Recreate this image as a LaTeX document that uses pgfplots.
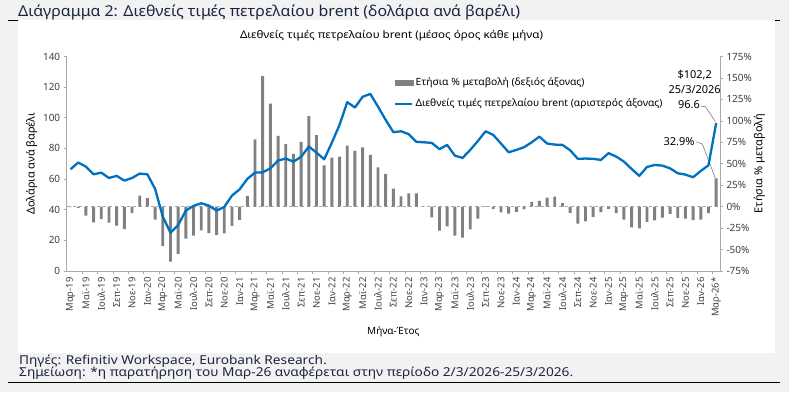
\documentclass[border=0pt]{standalone}
\usepackage{graphicx}
\usepackage{pgfplots}
\pgfplotsset{compat=1.18}
\usepackage{pgfplotstable}
\usepackage{fontspec}
\setmainfont{Noto Sans}
\definecolor{bggray}{RGB}{242,242,242}
\definecolor{axgray}{RGB}{170,170,170}
\definecolor{bargray}{RGB}{128,128,128}
\definecolor{oilblue}{RGB}{0,112,192}
\definecolor{navy}{RGB}{28,36,66}
\definecolor{ticktext}{RGB}{64,64,64}
% stretch text horizontally to a target width (in bp), keeping its height
\newcommand{\fitw}[2]{\begingroup\setbox0=\hbox{#2}\pgfmathsetmacro\fitsx{(#1*1.00375)/(\the\wd0)}\scalebox{\fitsx}[1]{\box0}\endgroup}

\pgfplotstableread{
i price yoy
0 66.4 -0.5
1 70.8 -1.3
2 68.1 -10.5
3 63.1 -18.3
4 64.2 -14.4
5 60.7 -18.7
6 62.1 -22.2
7 59.0 -26.1
8 60.7 -7.4
9 63.6 12.8
10 63.1 10.1
11 53.6 -15.2
12 35.5 -46.0
13 25.0 -64.0
14 30.0 -55.0
15 39.4 -37.3
16 42.5 -33.8
17 44.2 -27.6
18 42.7 -31.0
19 39.4 -33.0
20 41.8 -31.1
21 49.2 -22.4
22 53.3 -15.3
23 60.1 12.5
24 64.2 78.5
25 64.4 152.0
26 67.0 120.0
27 72.1 82.5
28 73.4 73.0
29 71.4 61.5
30 74.5 75.4
31 81.2 105.5
32 77.3 83.5
33 72.9 48.0
34 83.8 57.2
35 95.4 58.3
36 110.2 71.0
37 106.7 65.0
38 113.7 69.0
39 115.6 60.3
40 107.3 45.8
41 98.6 38.1
42 90.6 21.0
43 91.2 12.1
44 89.3 15.5
45 84.3 15.6
46 84.0 0.2
47 83.6 -12.4
48 79.5 -27.9
49 82.3 -22.9
50 75.3 -33.8
51 73.8 -36.2
52 79.0 -26.4
53 84.9 -13.9
54 91.2 0.7
55 88.8 -2.6
56 83.2 -6.8
57 77.5 -8.1
58 79.0 -6.0
59 80.8 -3.3
60 84.0 5.7
61 87.7 6.6
62 83.2 10.5
63 82.5 11.8
64 82.3 4.2
65 78.8 -7.2
66 73.2 -19.7
67 73.4 -17.3
68 73.2 -12.0
69 72.5 -6.5
70 76.9 -2.7
71 74.7 -7.5
72 71.4 -15.0
73 66.6 -24.1
74 62.1 -25.4
75 67.9 -17.7
76 69.2 -15.9
77 68.8 -12.7
78 67.0 -8.5
79 63.8 -13.1
80 62.9 -14.1
81 61.2 -15.6
82 65.3 -15.1
83 69.0 -7.6
84 96.6 32.9
}\oildata

\begin{document}
\setbox2=\hbox{\fontsize{12.3}{14}\selectfont Σημείωση: *η παρατήρηση του Μαρ-26 αναφέρεται στην περίοδο 2/3/2026-25/3/2026.}%
\pgfmathsetmacro\footsx{(554*1.00375)/(\the\wd2)}%
\begin{tikzpicture}[x=1bp,y=1bp]
\useasboundingbox (0,0) rectangle (789,392);
\fill[bggray] (0,0) rectangle (789,392);
\draw[black,line width=1bp] (8,371.3) -- (780,371.3);
\fill[white] (18,39.3) rectangle (775,372.2);
\draw[black,line width=1bp] (8,9.3) -- (780,9.3);
\node[anchor=base west,inner sep=0,text=navy,font=\fontsize{15}{17}\selectfont] at (18,375.3) {\fitw{502}{Διάγραμμα 2: Διεθνείς τιμές πετρελαίου brent (δολάρια ανά βαρέλι)}};
\node[anchor=base,inner sep=0,text=black,font=\fontsize{10.5}{12}\selectfont] at (391.5,353.7) {\fitw{303}{Διεθνείς τιμές πετρελαίου brent (μέσος όρος κάθε μήνα)}};
\node[anchor=base west,inner sep=0,text=navy,font=\fontsize{12.3}{14}\selectfont] at (19,28) {\scalebox{\footsx}[1]{Πηγές: Refinitiv Workspace, Eurobank Research.}};
\node[anchor=base west,inner sep=0,text=navy,font=\fontsize{12.3}{14}\selectfont] at (19,15.3) {\scalebox{\footsx}[1]{Σημείωση: *η παρατήρηση του Μαρ-26 αναφέρεται στην περίοδο 2/3/2026-25/3/2026.}};

% bars on the right axis
\begin{axis}[
  at={(66.7bp,121bp)}, anchor=south west, scale only axis,
  width=653.3bp, height=214.5bp,
  xmin=-0.5, xmax=84.5, ymin=-75, ymax=175,
  hide x axis,
  axis y line*=right,
  axis line style={axgray, line width=0.8bp},
  ytick={-75,-50,...,175},
  yticklabels={-75\%,-50\%,-25\%,0\%,25\%,50\%,75\%,100\%,125\%,150\%,175\%},
  tick align=outside, major tick length=3bp,
  tick style={axgray, line width=0.6bp},
  y tick label style={font=\fontsize{10}{12}\selectfont, text=ticktext},
  ylabel={Ετήσια \% μεταβολή},
  ylabel style={font=\fontsize{11}{13}\selectfont, text=black},
  ylabel shift=-5bp,
  clip=false,
]
\addplot[axgray, dashed, dash pattern=on 3bp off 3bp, line width=0.8bp, forget plot] coordinates {(-0.5,0) (84.5,0)};
\addplot[ybar, bar width=2.9bp, fill=bargray, draw=none, forget plot] table[x=i, y=yoy] {\oildata};
\draw[gray, line width=0.6bp] (axis cs:83.9,32.9) -- (axis cs:82.2,73) -- (axis cs:81.4,75.5);
\node[anchor=east, inner sep=0, font=\fontsize{11}{13}\selectfont] at (axis cs:81.2,76) {32.9\%};
\end{axis}

% price line on the left axis
\begin{axis}[
  at={(66.7bp,121bp)}, anchor=south west, scale only axis,
  width=653.3bp, height=214.5bp,
  xmin=-0.5, xmax=84.5, ymin=0, ymax=140,
  axis y line*=left, axis x line*=bottom,
  axis line style={axgray, line width=0.8bp},
  ytick={0,20,...,140},
  yticklabels={0,20,40,60,80,100,120,140},
  xtick={0,2,...,84},
  xticklabels={Μαρ-19,Μαϊ-19,Ιουλ-19,Σεπ-19,Νοε-19,Ιαν-20,Μαρ-20,Μαϊ-20,Ιουλ-20,Σεπ-20,Νοε-20,Ιαν-21,Μαρ-21,Μαϊ-21,Ιουλ-21,Σεπ-21,Νοε-21,Ιαν-22,Μαρ-22,Μαϊ-22,Ιουλ-22,Σεπ-22,Νοε-22,Ιαν-23,Μαρ-23,Μαϊ-23,Ιουλ-23,Σεπ-23,Νοε-23,Ιαν-24,Μαρ-24,Μαϊ-24,Ιουλ-24,Σεπ-24,Νοε-24,Ιαν-25,Μαρ-25,Μαϊ-25,Ιουλ-25,Σεπ-25,Νοε-25,Ιαν-26,Μαρ-26*},
  minor xtick={1.5,3.5,...,83.5},
  tick align=outside, major tick length=3bp, minor tick length=3bp,
  tick style={axgray, line width=0.6bp},
  x tick style={draw=none},
  minor x tick style={draw=axgray, line width=0.6bp},
  x tick label style={rotate=90, anchor=east, font=\fontsize{9.5}{11}\selectfont, text=ticktext},
  y tick label style={font=\fontsize{10}{12}\selectfont, text=ticktext},
  ylabel={Δολάρια ανά βαρέλι},
  ylabel style={font=\fontsize{11}{13}\selectfont, text=black},
  ylabel shift=-1bp,
  xlabel={Μήνα-Έτος},
  xlabel style={font=\fontsize{10}{12}\selectfont, text=black, yshift=-3bp},
  legend style={at={(0.4995,0.915)}, anchor=north west, draw=none, fill=none,
    font=\fontsize{10}{12}\selectfont, row sep=8bp, inner sep=1bp},
  legend cell align=left,
  clip=false,
]
\addlegendimage{legend image code/.code={\fill[bargray] (0bp,-2.6bp) rectangle (18bp,2.6bp);}}
\addlegendentry{\fitw{169}{Ετήσια \% μεταβολή (δεξιός άξονας)}}
\addplot[oilblue, line width=2.3bp, line join=round] table[x=i, y=price] {\oildata};
\addlegendentry{\fitw{247}{Διεθνείς τιμές πετρελαίου brent (αριστερός άξονας)}}
\draw[gray, line width=0.6bp] (axis cs:83.9,97.5) -- (axis cs:82.6,107.3) -- (axis cs:82,107.5);
\node[anchor=east, inner sep=0, font=\fontsize{11}{13}\selectfont] at (axis cs:81.9,108.4) {96.6};
\node[anchor=base, inner sep=0, font=\fontsize{11}{13}\selectfont] at (axis cs:81.2,125.5) {\$102,2};
\node[anchor=base, inner sep=0, font=\fontsize{11}{13}\selectfont] at (axis cs:81.2,115.6) {25/3/2026};
\end{axis}
\end{tikzpicture}
\end{document}
